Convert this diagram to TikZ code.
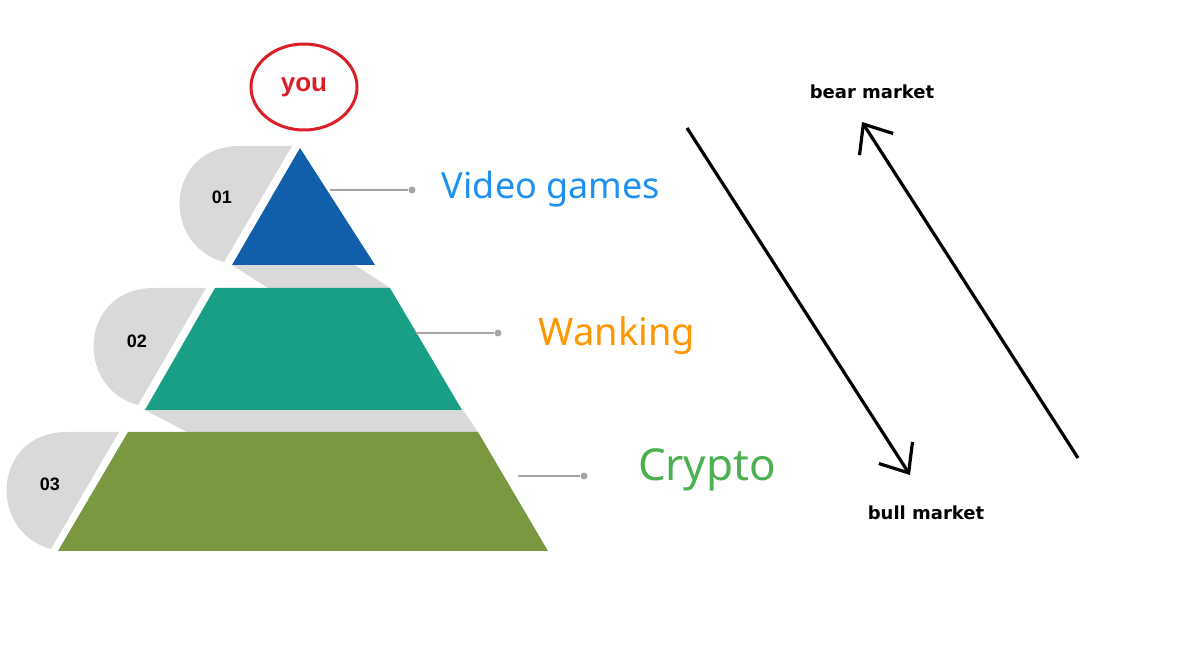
\documentclass[tikz,border=0pt]{standalone}
\usepackage{fontspec}
\setmainfont{Noto Sans}
\newfontfamily\lab{Liberation Sans}
\newfontfamily\comic{DejaVu Sans}
\usetikzlibrary{arrows.meta,shapes.geometric}
\definecolor{tabgray}{RGB}{217,217,217}
\definecolor{cblue}{RGB}{17,94,170}
\definecolor{cteal}{RGB}{26,159,135}
\definecolor{cgreen}{RGB}{122,152,64}
\definecolor{tblue}{RGB}{30,144,240}
\definecolor{torange}{RGB}{255,150,0}
\definecolor{tgreen}{RGB}{76,175,80}
\definecolor{yred}{RGB}{220,30,40}
\begin{document}
\begin{tikzpicture}[x=0.5pt,y=-0.5pt,
  num/.style={font=\lab\bfseries\fontsize{9}{10}\selectfont},
  lead/.style={draw=gray!70,line width=0.6pt},
  dotend/.style={circle,fill=gray!70,inner sep=0pt,minimum size=3.5pt},
  mk/.style={font=\comic\bfseries\fontsize{9}{10}\selectfont},
  arr/.style={line width=1.6pt,-{Straight Barb[length=12pt,width=20pt,line width=1.6pt]}}]
\useasboundingbox (0,0) rectangle (1200,651);
% bands
\fill[tabgray] (232,265) -- (355,265) -- (390,288) -- (268,288) -- cycle;
\fill[tabgray] (145,410) -- (463,410) -- (478,432) -- (187,432) -- cycle;
% tabs
\fill[tabgray] (292,146) -- (224,262) .. controls (160,245) and (165,146) .. (240,146) -- cycle;
\fill[tabgray] (206,288) -- (138,405) .. controls (74,388) and (79,288) .. (154,288) -- cycle;
\fill[tabgray] (119,432) -- (51,549) .. controls (-13,532) and (-8,432) .. (67,432) -- cycle;
% shapes
\fill[cblue] (300,148) -- (375,265) -- (232,265) -- cycle;
\fill[cteal] (215,288) -- (390,288) -- (462,410) -- (145,410) -- cycle;
\fill[cgreen] (128,432) -- (478,432) -- (548,551) -- (58,551) -- cycle;
\node[num] (n1) at (222,197) {01};
\node[num] (n2) at (137,341) {02};
\node[num] (n3) at (50,484) {03};
% leads
\coordinate (a1) at (330,190); \node[dotend] (d1) at (412,190) {};
\coordinate (a2) at (416,333); \node[dotend] (d2) at (498,333) {};
\coordinate (a3) at (518,476); \node[dotend] (d3) at (584,476) {};
\draw[lead] (a1) -- (d1); \draw[lead] (a2) -- (d2); \draw[lead] (a3) -- (d3);
\node[text=tblue,font=\fontsize{18}{20}\selectfont] (l1) at (551,189) {Video games};
\node[text=torange,font=\fontsize{19}{20}\selectfont] (l2) at (617,336) {Wanking};
\node[text=tgreen,font=\fontsize{22}{24}\selectfont] (l3) at (707,470) {Crypto};
% you
\node[draw=yred,line width=1.5pt,ellipse,inner sep=0pt,minimum width=53pt,minimum height=43pt,text=yred,font=\lab\bfseries\fontsize{13}{14}\selectfont] (you) at (304,87) {you};
% arrows
\coordinate (s1) at (687,128); \coordinate (e1) at (910,475);
\coordinate (s2) at (1078,458); \coordinate (e2) at (862,122);
\draw[arr] (s1) -- (e1);
\draw[arr] (s2) -- (e2);
\node[mk] (bear) at (872,92) {bear market};
\node[mk] (bull) at (926,513) {bull market};
\end{tikzpicture}
\end{document}
